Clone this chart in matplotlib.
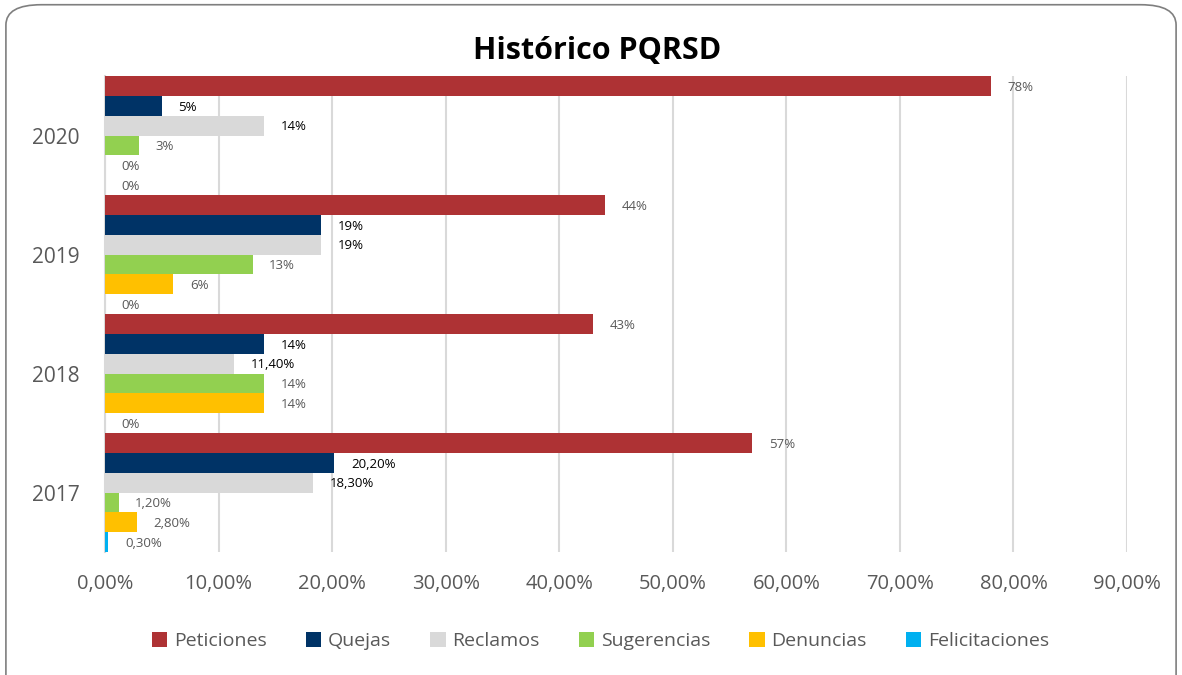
import matplotlib.pyplot as plt
import numpy as np
from matplotlib.patches import FancyBboxPatch

plt.rcParams['font.family'] = ['Open Sans', 'DejaVu Sans']

years = ['2017', '2018', '2019', '2020']
series = ['Peticiones', 'Quejas', 'Reclamos', 'Sugerencias', 'Denuncias', 'Felicitaciones']
colors = ['#ae3234', '#003366', '#d9d9d9', '#92d050', '#ffc000', '#00b0f0']
label_colors = ['#595959', '#000000', '#000000', '#595959', '#595959', '#595959']

# percentages per series, in the order of years
peticiones = [57, 43, 44, 78]
quejas = [20.2, 14, 19, 5]
reclamos = [18.3, 11.4, 19, 14]
sugerencias = [1.2, 14, 13, 3]
denuncias = [2.8, 14, 6, 0]
felicitaciones = [0.3, 0, 0, 0]
values = [peticiones, quejas, reclamos, sugerencias, denuncias, felicitaciones]

xticks = [0, 10, 20, 30, 40, 50, 60, 70, 80, 90]


def fmt(v):
    if float(v).is_integer():
        return f'{v:.0f}%'
    return f'{v:.2f}%'.replace('.', ',')


fig = plt.figure(figsize=(11.82, 6.75), dpi=100)
ax = fig.add_axes([0.0888, 0.1822, 0.8647, 0.7052])

n = len(series)
h = 1.0 / n
y = np.arange(len(years))
for i, (name, vals) in enumerate(zip(series, values)):
    offs = (n - 1) / 2 - i
    pos = y + offs * h
    ax.barh(pos, vals, height=h, color=colors[i], label=name, zorder=3)
    for p, v in zip(pos, vals):
        ax.annotate(fmt(v), (v, p), xytext=(12, -1), textcoords='offset points',
                    ha='left', va='center', fontsize=9.5, color=label_colors[i],
                    zorder=4)

ax.set_xlim(0, 90)
ax.set_ylim(-0.5, len(years) - 0.5)
ax.set_xticks(xticks)
ax.set_xticklabels([f'{t:.2f}%'.replace('.', ',') for t in xticks],
                   fontsize=14.5, color='#595959')
ax.set_yticks(y)
ax.set_yticklabels(years, fontsize=15, color='#595959')
ax.tick_params(axis='y', length=0, pad=18)
ax.tick_params(axis='x', length=0, pad=16)
ax.grid(axis='x', color='#d9d9d9', linewidth=1.5, zorder=0)
for s in ['top', 'right', 'bottom']:
    ax.spines[s].set_visible(False)
ax.spines['left'].set_color('#d9d9d9')
ax.spines['left'].set_linewidth(1.5)

fig.text(0.505, 0.925, 'Histórico PQRSD', ha='center', va='center',
         fontsize=22, fontweight='bold', color='#000000')

leg = fig.legend(loc='center', bbox_to_anchor=(0.508, 0.05), ncol=n, frameon=False,
                 fontsize=14, handlelength=0.8, handleheight=0.8,
                 handletextpad=0.35, columnspacing=2.0)
for t in leg.get_texts():
    t.set_color('#595959')

# rounded frame around the chart
frame = FancyBboxPatch((0.005, -0.05), 0.99, 1.043, transform=fig.transFigure,
                       boxstyle='round,pad=0,rounding_size=0.03',
                       facecolor='none', edgecolor='#7f7f7f', linewidth=1.2)
fig.patches.append(frame)

fig.savefig('out.png', dpi=100)
